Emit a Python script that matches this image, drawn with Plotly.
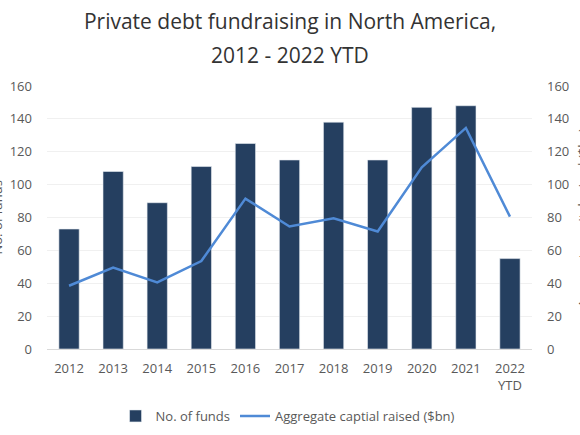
import plotly.graph_objects as go

# data
years = ["2012", "2013", "2014", "2015", "2016", "2017", "2018", "2019", "2020", "2021", "2022<br>YTD"]
num_funds = [73, 108, 89, 111, 125, 115, 138, 115, 147, 148, 55]
capital_raised = [38.5, 49.5, 40.5, 53.5, 91.5, 74.5, 79.5, 71.5, 110.5, 134.5, 80.5]

FONT = "Open Sans"
BAR_COLOR = "#253f60"
LINE_COLOR = "#4f8ad6"
TICK_COLOR = "#595959"

fig = go.Figure()

# No. of funds (bars)
fig.add_trace(go.Bar(
    x=years,
    y=num_funds,
    name="No. of funds",
    marker=dict(color=BAR_COLOR, line=dict(color="#e8ecf2", width=0.6)),
    width=0.46,
    yaxis="y",
))

# Aggregate capital (line)
fig.add_trace(go.Scatter(
    x=years,
    y=capital_raised,
    mode="lines",
    name="Aggregate captial raised ($bn)",
    line=dict(color=LINE_COLOR, width=2.5),
    yaxis="y2",
))

# plot area: x 47..532, y 86..349 (px)
fig.update_layout(
    width=580,
    height=435,
    margin=dict(l=47, r=48, t=86, b=86),
    paper_bgcolor="white",
    plot_bgcolor="white",
    font=dict(family=FONT, color=TICK_COLOR, size=13),
    title=dict(
        text="Private debt fundraising in North America,",
        x=0.5, xanchor="center",
        y=1 - 22 / 435, yanchor="middle",
        font=dict(family=FONT, size=21, color="#333333"),
    ),
    xaxis=dict(
        showgrid=False,
        showline=True,
        linecolor="#d9d9d9",
        linewidth=1,
        ticks="",
        ticklabelstandoff=7,
        tickfont=dict(size=13, color=TICK_COLOR),
        automargin=False,
    ),
    yaxis=dict(
        range=[0, 160],
        dtick=20,
        showgrid=True,
        gridcolor="#f0f0f0",
        zeroline=False,
        tickfont=dict(size=13, color=TICK_COLOR),
        ticklabelstandoff=14,
        automargin=False,
    ),
    yaxis2=dict(
        range=[0, 160],
        dtick=20,
        overlaying="y",
        side="right",
        showgrid=False,
        zeroline=False,
        tickfont=dict(size=13, color=TICK_COLOR),
        ticklabelstandoff=14,
        automargin=False,
    ),
    legend=dict(
        orientation="h",
        x=0.497, xanchor="center",
        yref="container",
        y=1 - 416 / 435, yanchor="middle",
        font=dict(size=13, color=TICK_COLOR),
        itemwidth=30,
    ),
    bargap=0.54,
)

# second title line
fig.add_annotation(
    text="2012 - 2022 YTD",
    xref="paper", yref="paper",
    x=(290 - 47) / 485, y=1 + (86 - 55) / 263,
    xanchor="center", yanchor="middle",
    showarrow=False,
    font=dict(family=FONT, size=21, color="#333333"),
)

# axis titles, partly off the page edge as in the source
fig.add_annotation(
    text="No. of funds",
    xref="paper", yref="paper",
    x=(7 - 47) / 485, y=0.5,
    xanchor="right", yanchor="middle",
    textangle=-90,
    showarrow=False,
    font=dict(size=13, color=TICK_COLOR),
)
fig.add_annotation(
    text="Aggregate capital raised ($bn)",
    xref="paper", yref="paper",
    x=(571 - 47) / 485, y=0.5,
    xanchor="left", yanchor="middle",
    textangle=-90,
    showarrow=False,
    font=dict(size=13, color=TICK_COLOR),
)

fig.write_html(
    "out.html",
    config={"displayModeBar": False},
    post_script="document.body.style.margin='0';",
)
